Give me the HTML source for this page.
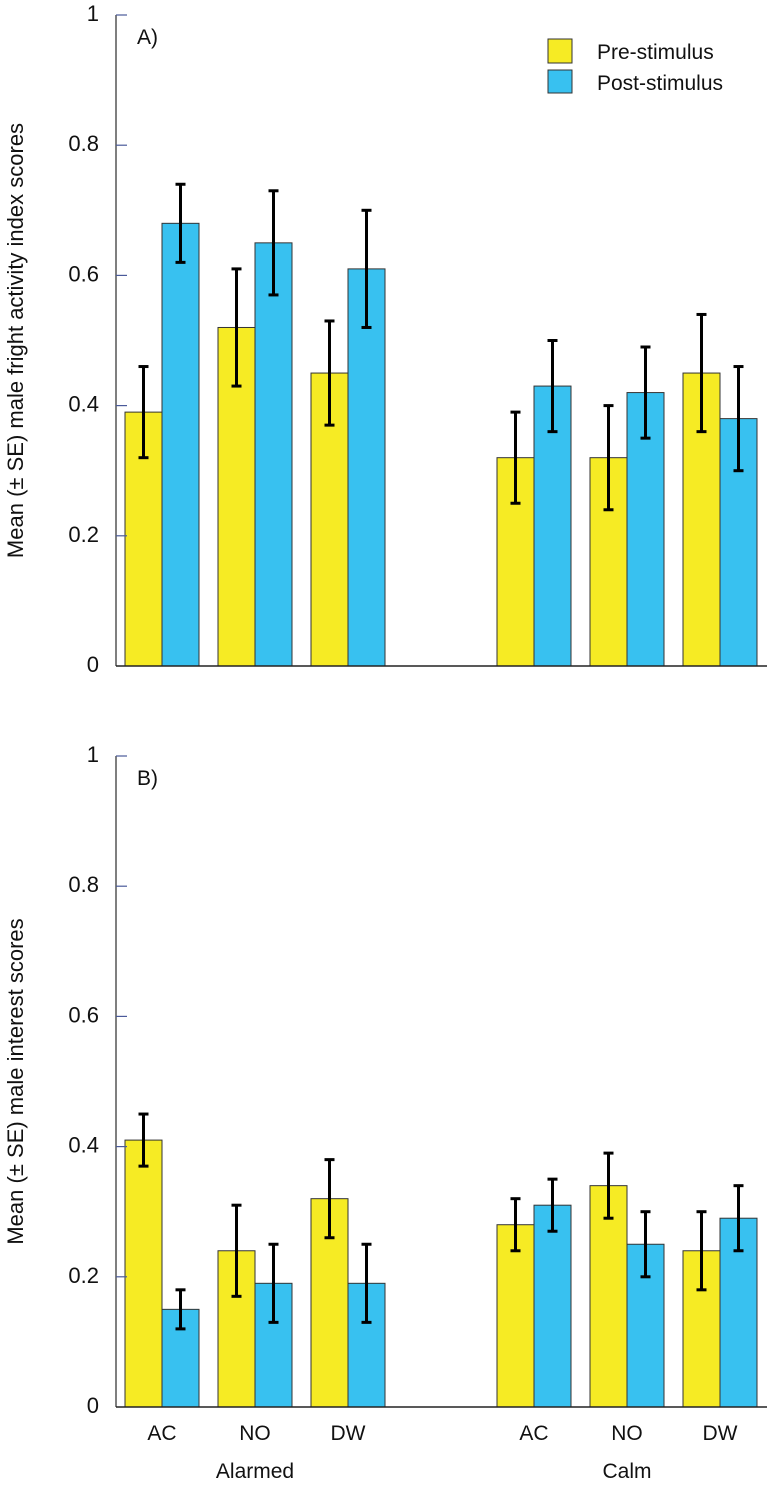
<!DOCTYPE html>
<html><head><meta charset="utf-8"><style>
html,body{margin:0;padding:0;background:#fff}
svg{display:block;font-family:"Liberation Sans",sans-serif}
</style></head><body>
<svg id="chart" width="767" height="1486" viewBox="0 0 767 1486"></svg>
<script>
const categories = ["AC","NO","DW","AC","NO","DW"];
const groups = ["Alarmed","Calm"];
const ticks = [0,0.2,0.4,0.6,0.8,1];
const tickLabels = ["0","0.2","0.4","0.6","0.8","1"];
const preA = [0.39,0.52,0.45,0.32,0.32,0.45];
const postA = [0.68,0.65,0.61,0.43,0.42,0.38];
const preAErr = [0.07,0.09,0.08,0.07,0.08,0.09];
const postAErr = [0.06,0.08,0.09,0.07,0.07,0.08];
const preB = [0.41,0.24,0.32,0.28,0.34,0.24];
const postB = [0.15,0.19,0.19,0.31,0.25,0.29];
const preBErr = [0.04,0.07,0.06,0.04,0.05,0.06];
const postBErr = [0.03,0.06,0.06,0.04,0.05,0.05];

const NS="http://www.w3.org/2000/svg";
const svg=document.getElementById('chart');
function mk(tag,attrs,parent){const e=document.createElementNS(NS,tag);for(const k in attrs)e.setAttribute(k,attrs[k]);(parent||svg).appendChild(e);return e;}
const groupStart=[125,497];
const step=93, bw=37;
function xPos(i){return groupStart[i<3?0:1]+(i%3)*step;}

function panel(y0,y1,pre,post,preE,postE,label,title,id){
  const g=mk('g',{});
  
  
  const ys=v=>y0-(y0-y1)*v;
  for(let i=0;i<categories.length;i++){
    const x=xPos(i);
    const b1=mk('rect',{x:x,y:ys(pre[i]),width:bw,height:y0-ys(pre[i]),fill:'#f6eb24',stroke:'#333','stroke-width':1},g);
    
    
    const b2=mk('rect',{x:x+bw,y:ys(post[i]),width:bw,height:y0-ys(post[i]),fill:'#38c1f0',stroke:'#333','stroke-width':1},g);
    
    
  }
  for(let i=0;i<categories.length;i++){
    [[pre[i],preE[i],xPos(i)+bw/2],[post[i],postE[i],xPos(i)+bw*1.5]].forEach(([v,e,cx])=>{
      const eg=mk('g',{stroke:'#000','stroke-width':3},g);
      
      
      mk('line',{x1:cx,x2:cx,y1:ys(v+e),y2:ys(v-e)},eg);
      mk('line',{x1:cx-5,x2:cx+5,y1:ys(v+e),y2:ys(v+e)},eg);
      mk('line',{x1:cx-5,x2:cx+5,y1:ys(v-e),y2:ys(v-e)},eg);
    });
  }
  const ya=mk('line',{x1:116,x2:116,y1:y1,y2:y0,stroke:'#555','stroke-width':1.5},g);
  
  const xa=mk('line',{x1:116,x2:767,y1:y0,y2:y0,stroke:'#222','stroke-width':1.5},g);
  
  ticks.forEach((t,k)=>{
    if(t>0) mk('line',{x1:116,x2:127,y1:ys(t),y2:ys(t),stroke:'#4a5a9a','stroke-width':1.2},g);
    const tl=mk('text',{x:99,y:ys(t)+6,'text-anchor':'end','font-size':22,fill:'#111'},g);
    tl.textContent=tickLabels[k];
    
  });
  const pl=mk('text',{x:137,y:y1+29,'font-size':21,fill:'#111'},g);
  pl.textContent=label;
  const cy=(y0+y1)/2;
  const tt=mk('text',{x:23,y:cy,'text-anchor':'middle','font-size':22,fill:'#111',transform:'rotate(-90 23 '+cy+')'},g);
  tt.textContent=title;
  return ys;
}
panel(666,15,preA,postA,preAErr,postAErr,'A)','Mean (± SE) male fright activity index scores','panel-a');
panel(1407,756,preB,postB,preBErr,postBErr,'B)','Mean (± SE) male interest scores','panel-b');

for(let i=0;i<categories.length;i++){
  const t=mk('text',{x:xPos(i)+bw,y:1440,'text-anchor':'middle','font-size':21,fill:'#111'});
  t.textContent=categories[i];
  
  
}
groups.forEach((gname,k)=>{
  const t=mk('text',{x:groupStart[k]+step+bw,y:1478,'text-anchor':'middle','font-size':21,fill:'#111'});
  t.textContent=gname;
  
  
});
const lg=mk('g',{});


mk('rect',{x:548,y:39,width:24,height:24,fill:'#f6eb24',stroke:'#333','stroke-width':1},lg);
mk('rect',{x:548,y:70,width:24,height:23,fill:'#38c1f0',stroke:'#333','stroke-width':1},lg);
const l1=mk('text',{x:597,y:59,'font-size':21,fill:'#111'},lg);l1.textContent='Pre-stimulus';


const l2=mk('text',{x:597,y:90,'font-size':21,fill:'#111'},lg);l2.textContent='Post-stimulus';


</script>
</body></html>
